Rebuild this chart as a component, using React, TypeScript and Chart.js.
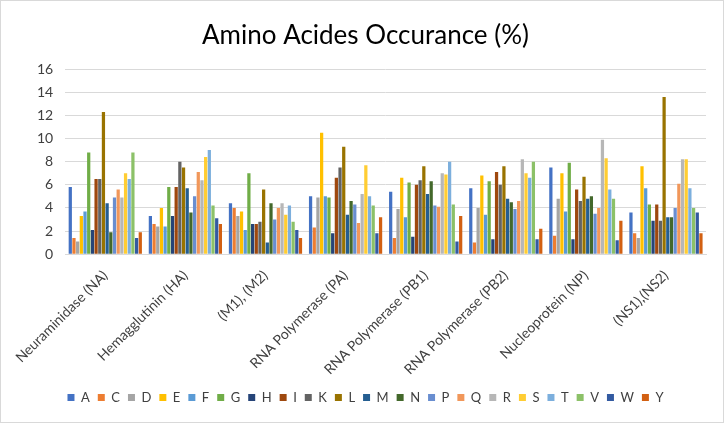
import React, { useEffect, useRef } from "react";
import { Chart, registerables } from "chart.js";

Chart.register(...registerables);

const categories = [
  "Neuraminidase (NA)",
  "Hemagglutinin (HA)",
  "(M1), (M2)",
  "RNA Polymerase (PA)",
  "RNA Polymerase (PB1)",
  "RNA Polymerase (PB2)",
  "Nucleoprotein (NP)",
  "(NS1),(NS2)",
];

const aminoAcids = ["A", "C", "D", "E", "F", "G", "H", "I", "K", "L", "M", "N", "P", "Q", "R", "S", "T", "V", "W", "Y"];

// values per amino acid, across the 8 categories
const A = [5.8, 3.3, 4.4, 5.0, 5.4, 5.7, 7.5, 3.6];
const C = [1.4, 2.6, 4.0, 2.3, 1.4, 1.0, 1.6, 1.8];
const D = [1.1, 2.4, 3.3, 4.9, 3.9, 4.0, 4.8, 1.4];
const E = [3.3, 4.0, 3.7, 10.5, 6.6, 6.8, 7.0, 7.6];
const F = [3.7, 2.4, 2.1, 5.0, 3.2, 3.4, 3.7, 5.7];
const G = [8.8, 5.8, 7.0, 4.9, 6.2, 6.3, 7.9, 4.3];
const H = [2.1, 3.3, 2.6, 1.8, 1.5, 1.3, 1.3, 2.9];
const I = [6.5, 5.8, 2.6, 6.6, 6.0, 7.1, 5.6, 4.3];
const K = [6.5, 8.0, 2.8, 7.5, 6.4, 6.0, 4.6, 2.9];
const L = [12.3, 7.5, 5.6, 9.3, 7.6, 7.6, 6.7, 13.6];
const M = [4.4, 5.7, 1.0, 3.4, 5.2, 4.8, 4.8, 3.2];
const N = [1.9, 3.6, 4.4, 4.6, 6.3, 4.5, 5.0, 3.2];
const P = [4.9, 5.0, 3.0, 4.3, 4.2, 3.9, 3.5, 4.0];
const Q = [5.6, 7.1, 4.0, 2.7, 4.1, 4.6, 4.0, 6.1];
const R = [4.9, 6.4, 4.4, 5.2, 7.0, 8.2, 9.9, 8.2];
const S = [7.0, 8.4, 3.4, 7.7, 6.9, 7.0, 8.3, 8.2];
const T = [6.5, 9.0, 4.2, 5.0, 8.0, 6.6, 5.6, 5.7];
const V = [8.8, 4.2, 2.8, 4.2, 4.3, 8.0, 4.8, 4.0];
const W = [1.4, 3.1, 2.1, 1.8, 1.1, 1.3, 1.2, 3.6];
const Y = [1.9, 2.6, 1.4, 3.2, 3.3, 2.2, 2.9, 1.8];

const seriesValues = [A, C, D, E, F, G, H, I, K, L, M, N, P, Q, R, S, T, V, W, Y];

const colors = [
  "#4472C4", "#ED7D31", "#A5A5A5", "#FFC000", "#5B9BD5", "#70AD47",
  "#264478", "#9E480E", "#636363", "#997300", "#255E91", "#43682B",
  "#698ED0", "#F1975A", "#B7B7B7", "#FFCD33", "#7CAFDD", "#8CC168",
  "#335AA1", "#D26012",
];

const yTicks = [0, 2, 4, 6, 8, 10, 12, 14, 16];

const FONT = "Lato, 'Liberation Sans', sans-serif";

export default function App() {
  const ref = useRef<HTMLCanvasElement | null>(null);

  useEffect(() => {
    document.body.style.margin = "0";
    if (!ref.current) return;
    const chart = new Chart(ref.current, {
      type: "bar",
      data: {
        labels: categories,
        datasets: aminoAcids.map((name, i) => ({
          label: name,
          data: seriesValues[i],
          backgroundColor: colors[i],
          borderWidth: 0,
          categoryPercentage: 0.92,
          barPercentage: 0.88,
        })),
      },
      options: {
        animation: false,
        responsive: false,
        maintainAspectRatio: false,
        layout: { padding: { left: 24, right: 17, top: 8, bottom: 8 } },
        plugins: {
          title: {
            display: true,
            text: "Amino Acides Occurance (%)",
            color: "#000000",
            font: { family: FONT, size: 26, weight: "normal" },
            padding: { top: 11, bottom: 18 },
          },
          legend: {
            position: "bottom",
            labels: {
              boxWidth: 7,
              boxHeight: 7,
              padding: 8,
              color: "#404040",
              font: { family: FONT, size: 13 },
            },
          },
          tooltip: { enabled: false },
        },
        scales: {
          x: {
            grid: { display: false },
            border: { color: "#d9d9d9" },
            ticks: {
              minRotation: 45,
              maxRotation: 45,
              color: "#404040",
              font: { family: FONT, size: 14 },
              padding: 5,
            },
          },
          y: {
            min: 0,
            max: 16,
            afterBuildTicks: (axis: any) => {
              axis.ticks = yTicks.map((v) => ({ value: v }));
            },
            grid: { color: "#d9d9d9", lineWidth: 1, drawTicks: false },
            border: { display: false },
            ticks: {
              color: "#404040",
              font: { family: FONT, size: 14 },
              padding: 12,
            },
          },
        },
      },
    });
    return () => chart.destroy();
  }, []);

  return (
    <div
      style={{
        width: 724,
        height: 423,
        boxSizing: "border-box",
        border: "1px solid #d9d9d9",
        background: "#fff",
        position: "relative",
      }}
    >
      <canvas ref={ref} width={722} height={421} style={{ display: "block" }} />
    </div>
  );
}
